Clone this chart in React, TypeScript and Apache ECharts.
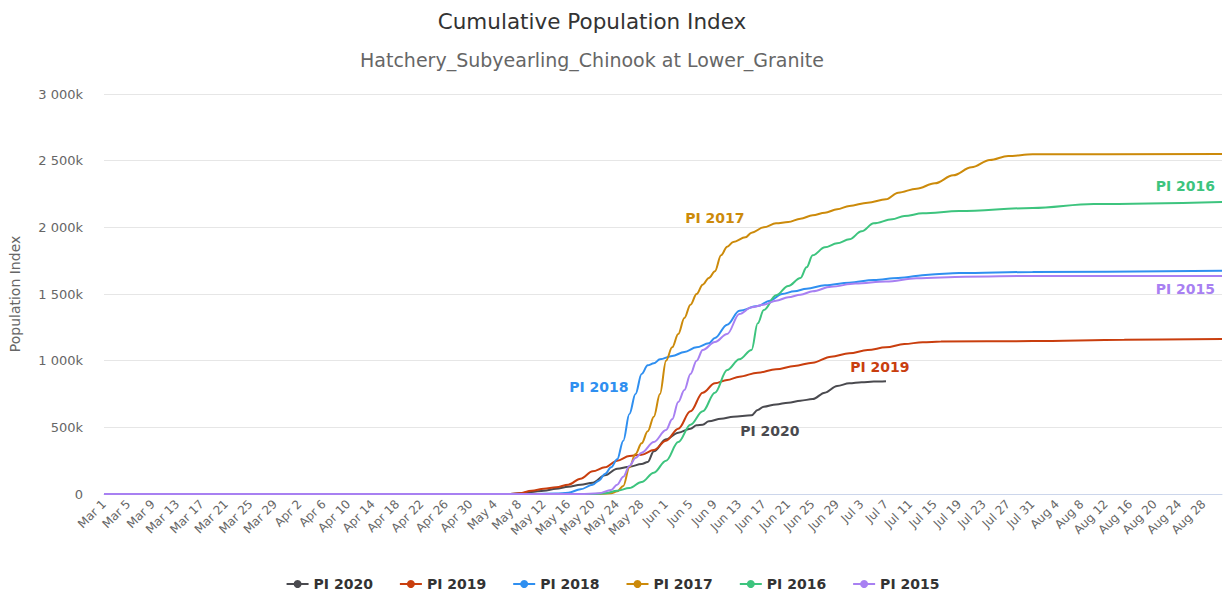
import React, { useEffect, useRef } from "react";
import * as echarts from "echarts";

const MONTHS: [string, number][] = [["Mar", 31], ["Apr", 30], ["May", 31], ["Jun", 30], ["Jul", 31], ["Aug", 31]];
const categories: string[] = [];
MONTHS.forEach(([m, n]) => { for (let d = 1; d <= n; d++) categories.push(`${m} ${d}`); });

const seriesNames = ["PI 2020", "PI 2019", "PI 2018", "PI 2017", "PI 2016", "PI 2015"];
const seriesColors = ["#4a4a4f", "#c93e0e", "#2f8ff0", "#cc8a0a", "#3dc47e", "#a880f2"];

// values in thousands, [date, value]
const pi2020: [string, number][] = [
  ["Mar 1", 0], ["May 6", 0], ["May 8", 5], ["May 10", 15], ["May 12", 25], ["May 14", 40], ["May 16", 55],
  ["May 18", 70], ["May 20", 85], ["May 22", 140], ["May 24", 190], ["May 26", 205], ["May 28", 225],
  ["May 29", 240], ["May 30", 320], ["Jun 1", 410], ["Jun 3", 460], ["Jun 5", 490], ["Jun 6", 515],
  ["Jun 7", 520], ["Jun 8", 545], ["Jun 10", 565], ["Jun 12", 580], ["Jun 15", 590], ["Jun 16", 630],
  ["Jun 17", 655], ["Jun 19", 672], ["Jun 21", 685], ["Jun 23", 700], ["Jun 25", 712], ["Jun 27", 760],
  ["Jun 29", 810], ["Jul 1", 830], ["Jul 3", 838], ["Jul 5", 843], ["Jul 7", 846],
];
const pi2019: [string, number][] = [
  ["Mar 1", 0], ["May 6", 0], ["May 8", 5], ["May 10", 25], ["May 12", 40], ["May 14", 50], ["May 16", 70],
  ["May 18", 115], ["May 20", 170], ["May 22", 200], ["May 24", 250], ["May 26", 285], ["May 28", 295],
  ["May 30", 330], ["Jun 1", 400], ["Jun 3", 490], ["Jun 5", 620], ["Jun 7", 760], ["Jun 9", 830],
  ["Jun 11", 855], ["Jun 13", 880], ["Jun 16", 910], ["Jun 19", 935], ["Jun 22", 960], ["Jun 25", 985],
  ["Jun 28", 1030], ["Jul 1", 1055], ["Jul 4", 1080], ["Jul 7", 1100], ["Jul 10", 1125], ["Jul 13", 1138],
  ["Jul 16", 1143], ["Jul 31", 1147], ["Aug 15", 1157], ["Aug 31", 1163],
];
const pi2018: [string, number][] = [
  ["Mar 1", 0], ["May 10", 0], ["May 14", 3], ["May 16", 10], ["May 18", 35], ["May 20", 70], ["May 21", 100],
  ["May 22", 150], ["May 23", 200], ["May 24", 260], ["May 25", 400], ["May 26", 600], ["May 27", 750],
  ["May 28", 900], ["May 29", 965], ["May 30", 980], ["May 31", 1010], ["Jun 2", 1035], ["Jun 4", 1065],
  ["Jun 6", 1100], ["Jun 8", 1130], ["Jun 9", 1170], ["Jun 11", 1270], ["Jun 13", 1375], ["Jun 16", 1410],
  ["Jun 18", 1450], ["Jun 20", 1500], ["Jun 22", 1520], ["Jun 24", 1540], ["Jun 27", 1565], ["Jul 1", 1585],
  ["Jul 5", 1605], ["Jul 9", 1620], ["Jul 14", 1645], ["Jul 19", 1657], ["Jul 31", 1665], ["Aug 31", 1675],
];
const pi2017: [string, number][] = [
  ["Mar 1", 0], ["May 20", 0], ["May 23", 5], ["May 24", 20], ["May 25", 60], ["May 26", 200], ["May 27", 300],
  ["May 28", 380], ["May 29", 470], ["May 30", 580], ["May 31", 750], ["Jun 1", 1000], ["Jun 2", 1100],
  ["Jun 3", 1200], ["Jun 4", 1320], ["Jun 5", 1420], ["Jun 6", 1500], ["Jun 7", 1570], ["Jun 8", 1620],
  ["Jun 9", 1670], ["Jun 10", 1790], ["Jun 11", 1855], ["Jun 12", 1890], ["Jun 14", 1925], ["Jun 15", 1960],
  ["Jun 17", 2000], ["Jun 19", 2030], ["Jun 21", 2040], ["Jun 23", 2065], ["Jun 25", 2090], ["Jun 27", 2110],
  ["Jun 29", 2135], ["Jul 1", 2160], ["Jul 4", 2185], ["Jul 7", 2210], ["Jul 9", 2260], ["Jul 12", 2290],
  ["Jul 15", 2330], ["Jul 18", 2390], ["Jul 21", 2450], ["Jul 24", 2505], ["Jul 27", 2535], ["Jul 31", 2548],
  ["Aug 31", 2550],
];
const pi2016: [string, number][] = [
  ["Mar 1", 0], ["May 20", 0], ["May 22", 5], ["May 24", 25], ["May 26", 45], ["May 28", 90], ["May 30", 160],
  ["Jun 1", 250], ["Jun 3", 390], ["Jun 5", 520], ["Jun 7", 620], ["Jun 9", 760], ["Jun 11", 930],
  ["Jun 13", 1010], ["Jun 15", 1080], ["Jun 16", 1280], ["Jun 17", 1380], ["Jun 19", 1490], ["Jun 21", 1560],
  ["Jun 23", 1620], ["Jun 24", 1700], ["Jun 25", 1790], ["Jun 27", 1850], ["Jun 29", 1880], ["Jul 1", 1910],
  ["Jul 3", 1970], ["Jul 5", 2030], ["Jul 8", 2060], ["Jul 10", 2085], ["Jul 13", 2105], ["Jul 19", 2122],
  ["Jul 31", 2145], ["Aug 10", 2175], ["Aug 31", 2190],
];
const pi2015: [string, number][] = [
  ["Mar 1", 0], ["May 18", 0], ["May 21", 5], ["May 23", 30], ["May 24", 70], ["May 25", 130], ["May 26", 210],
  ["May 27", 270], ["May 28", 310], ["May 30", 390], ["Jun 1", 480], ["Jun 2", 560], ["Jun 3", 690],
  ["Jun 4", 780], ["Jun 5", 900], ["Jun 6", 1000], ["Jun 7", 1080], ["Jun 9", 1140], ["Jun 11", 1200],
  ["Jun 13", 1350], ["Jun 15", 1400], ["Jun 17", 1420], ["Jun 19", 1450], ["Jun 21", 1475], ["Jun 23", 1495],
  ["Jun 25", 1520], ["Jun 28", 1555], ["Jul 2", 1578], ["Jul 7", 1593], ["Jul 12", 1618], ["Jul 20", 1630],
  ["Jul 31", 1635], ["Aug 31", 1635],
];
const seriesData = [pi2020, pi2019, pi2018, pi2017, pi2016, pi2015];

// in-chart series labels: [date, value(k)] anchor for the label's centre
const seriesLabelAnchors: [string, number][] = [
  ["Jun 18", 475], ["Jul 6", 952], ["May 21", 805], ["Jun 9", 2070], ["Aug 25", 2310], ["Aug 25", 1535],
];

const fmtY = (v: number) => {
  if (v === 0) return "0";
  const k = v / 1000;
  return k >= 1000 ? `${Math.floor(k / 1000)} ${String(k % 1000).padStart(3, "0")}k` : `${k}k`;
};

const FONT = "DejaVu Sans";

export default function App() {
  const ref = useRef<HTMLDivElement>(null);
  useEffect(() => {
    document.body.style.margin = "0";
    const chart = echarts.init(ref.current!, undefined, { renderer: "svg" });
    const series = seriesNames.map((name, i) => ({
      name,
      type: "line",
      data: seriesData[i].map(([d, v]) => [categories.indexOf(d), v * 1000]),
      color: seriesColors[i],
      symbol: "circle",
      symbolSize: 7,
      showSymbol: false,
      smooth: 0.35,
      smoothMonotone: "x",
      lineStyle: { width: 2 },
      markPoint: {
        symbol: "circle",
        symbolSize: 0,
        silent: true,
        label: {
          show: true,
          formatter: name,
          position: "inside",
          color: seriesColors[i],
          fontSize: 14,
          fontWeight: "bold",
          fontFamily: FONT,
        },
        data: [{ coord: [categories.indexOf(seriesLabelAnchors[i][0]), seriesLabelAnchors[i][1] * 1000] }],
      },
    }));
    chart.setOption({
      animation: false,
      textStyle: { fontFamily: FONT },
      title: [
        {
          text: "Cumulative Population Index",
          left: 587, top: 5, textAlign: "center",
          textStyle: { fontSize: 21.5, fontWeight: "normal", color: "#333333", fontFamily: FONT },
        },
        {
          text: "Hatchery_Subyearling_Chinook at Lower_Granite",
          left: 587, top: 45, textAlign: "center",
          textStyle: { fontSize: 19, fontWeight: "normal", color: "#666666", fontFamily: FONT },
        },
      ],
      legend: {
        bottom: 0,
        left: "center",
        itemGap: 26,
        itemWidth: 22,
        itemHeight: 10,
        textStyle: { fontSize: 14, fontWeight: "bold", color: "#333333", fontFamily: FONT },
        data: seriesNames,
      },
      grid: { left: 104, right: 3, top: 94, bottom: 102 },
      xAxis: {
        type: "category",
        data: categories,
        boundaryGap: false,
        axisLine: { lineStyle: { color: "#ccd6eb" } },
        axisTick: { show: false },
        axisLabel: { interval: 3, rotate: 45, fontSize: 12, color: "#666666", margin: 8, fontFamily: FONT },
      },
      yAxis: {
        type: "value",
        min: 0, max: 3000000, interval: 500000,
        name: "Population Index",
        nameLocation: "middle",
        nameGap: 82,
        nameTextStyle: { fontSize: 14, color: "#666666", fontFamily: FONT },
        axisLabel: { formatter: fmtY, fontSize: 13, color: "#666666", margin: 21, fontFamily: FONT },
        splitLine: { lineStyle: { color: "#e6e6e6" } },
        axisLine: { show: false },
      },
      series,
    });
    return () => chart.dispose();
  }, []);
  return <div ref={ref} style={{ width: 1225, height: 596 }} />;
}
